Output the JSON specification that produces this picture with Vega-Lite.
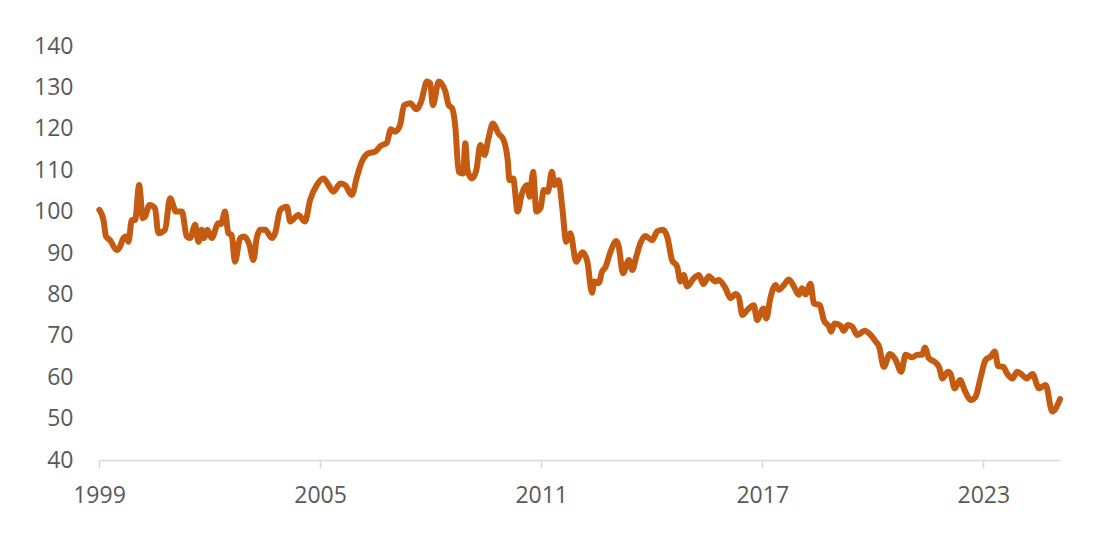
{
  "$schema": "https://vega.github.io/schema/vega-lite/v6.json",
  "width": 961,
  "height": 414,
  "autosize": {"type": "none"},
  "padding": {"left": 99, "top": 46, "right": 45, "bottom": 82},
  "background": "white",
  "config": {
    "view": {"stroke": null},
    "font": "Open Sans",
    "axis": {"grid": false, "labelFont": "Open Sans", "labelFontSize": 23, "labelColor": "#595959", "title": null}
  },
  "data": {
    "values": [
      {"t": 1999.01, "v": 100.4}, {"t": 1999.12, "v": 98}, {"t": 1999.19, "v": 94}, {"t": 1999.30, "v": 93.1},
      {"t": 1999.48, "v": 90.7}, {"t": 1999.57, "v": 91.5}, {"t": 1999.66, "v": 93.6}, {"t": 1999.73, "v": 94},
      {"t": 1999.80, "v": 92.7}, {"t": 1999.89, "v": 98}, {"t": 1999.98, "v": 98}, {"t": 2000.09, "v": 106.4},
      {"t": 2000.19, "v": 98.4}, {"t": 2000.25, "v": 98.8}, {"t": 2000.37, "v": 101.6}, {"t": 2000.52, "v": 100.8},
      {"t": 2000.61, "v": 94.8}, {"t": 2000.79, "v": 95.6}, {"t": 2000.93, "v": 103.2}, {"t": 2001.09, "v": 100},
      {"t": 2001.25, "v": 100}, {"t": 2001.38, "v": 94}, {"t": 2001.47, "v": 93.6}, {"t": 2001.61, "v": 96.8},
      {"t": 2001.70, "v": 92.7}, {"t": 2001.79, "v": 95.6}, {"t": 2001.85, "v": 93.6}, {"t": 2001.94, "v": 95.6},
      {"t": 2002.06, "v": 93.6}, {"t": 2002.24, "v": 97.2}, {"t": 2002.31, "v": 97}, {"t": 2002.42, "v": 100},
      {"t": 2002.51, "v": 94.8}, {"t": 2002.60, "v": 94.3}, {"t": 2002.69, "v": 87.9}, {"t": 2002.83, "v": 93.6},
      {"t": 2002.94, "v": 94}, {"t": 2003.08, "v": 92}, {"t": 2003.19, "v": 88.3}, {"t": 2003.28, "v": 93.6},
      {"t": 2003.37, "v": 95.6}, {"t": 2003.51, "v": 95.6}, {"t": 2003.69, "v": 93.6}, {"t": 2003.78, "v": 94.8},
      {"t": 2003.92, "v": 100.4}, {"t": 2004.10, "v": 101.2}, {"t": 2004.19, "v": 97.6}, {"t": 2004.41, "v": 99.2},
      {"t": 2004.59, "v": 97.6}, {"t": 2004.73, "v": 102.8}, {"t": 2004.91, "v": 106.4}, {"t": 2005.09, "v": 108},
      {"t": 2005.23, "v": 106.4}, {"t": 2005.36, "v": 104.8}, {"t": 2005.55, "v": 106.8}, {"t": 2005.68, "v": 106.4},
      {"t": 2005.86, "v": 104}, {"t": 2006.00, "v": 108.4}, {"t": 2006.13, "v": 112}, {"t": 2006.31, "v": 114.1},
      {"t": 2006.50, "v": 114.5}, {"t": 2006.63, "v": 115.8}, {"t": 2006.81, "v": 116.6}, {"t": 2006.92, "v": 119.9},
      {"t": 2007.04, "v": 119.3}, {"t": 2007.17, "v": 120.9}, {"t": 2007.28, "v": 125.7}, {"t": 2007.45, "v": 126.2},
      {"t": 2007.61, "v": 124.7}, {"t": 2007.74, "v": 126.5}, {"t": 2007.90, "v": 131.4}, {"t": 2007.99, "v": 131},
      {"t": 2008.06, "v": 125.7}, {"t": 2008.22, "v": 131.4}, {"t": 2008.40, "v": 129}, {"t": 2008.49, "v": 125.7},
      {"t": 2008.58, "v": 125}, {"t": 2008.67, "v": 120.5}, {"t": 2008.76, "v": 109.6}, {"t": 2008.88, "v": 109.2},
      {"t": 2008.94, "v": 116.5}, {"t": 2009.00, "v": 110}, {"t": 2009.12, "v": 108}, {"t": 2009.24, "v": 110},
      {"t": 2009.35, "v": 116.1}, {"t": 2009.46, "v": 113.7}, {"t": 2009.57, "v": 117.7}, {"t": 2009.69, "v": 121.3},
      {"t": 2009.84, "v": 118.9}, {"t": 2009.98, "v": 117.3}, {"t": 2010.09, "v": 112.5}, {"t": 2010.14, "v": 107.6},
      {"t": 2010.24, "v": 108}, {"t": 2010.36, "v": 100}, {"t": 2010.48, "v": 104.4}, {"t": 2010.62, "v": 106.4},
      {"t": 2010.69, "v": 103.6}, {"t": 2010.78, "v": 109.6}, {"t": 2010.87, "v": 100}, {"t": 2010.98, "v": 100.8},
      {"t": 2011.07, "v": 105.2}, {"t": 2011.18, "v": 104.8}, {"t": 2011.29, "v": 109.6}, {"t": 2011.36, "v": 106.4},
      {"t": 2011.47, "v": 107.6}, {"t": 2011.57, "v": 101.2}, {"t": 2011.68, "v": 92.7}, {"t": 2011.79, "v": 94.8},
      {"t": 2011.95, "v": 87.9}, {"t": 2012.12, "v": 90.2}, {"t": 2012.25, "v": 88}, {"t": 2012.38, "v": 80.4},
      {"t": 2012.44, "v": 83.1}, {"t": 2012.56, "v": 82.7}, {"t": 2012.65, "v": 85.5}, {"t": 2012.74, "v": 86.5},
      {"t": 2012.88, "v": 90.3}, {"t": 2013.04, "v": 92.9}, {"t": 2013.10, "v": 91.8}, {"t": 2013.22, "v": 85.1},
      {"t": 2013.38, "v": 88.3}, {"t": 2013.47, "v": 85.9}, {"t": 2013.58, "v": 89.1}, {"t": 2013.69, "v": 92.3},
      {"t": 2013.83, "v": 94.1}, {"t": 2014.01, "v": 93.1}, {"t": 2014.15, "v": 95.2}, {"t": 2014.31, "v": 95.6},
      {"t": 2014.43, "v": 93.6}, {"t": 2014.55, "v": 88.3}, {"t": 2014.69, "v": 86.7}, {"t": 2014.78, "v": 83.1},
      {"t": 2014.87, "v": 84.7}, {"t": 2014.96, "v": 81.9}, {"t": 2015.14, "v": 83.9}, {"t": 2015.28, "v": 84.7},
      {"t": 2015.40, "v": 82.5}, {"t": 2015.55, "v": 84.4}, {"t": 2015.73, "v": 83.1}, {"t": 2015.82, "v": 83.5},
      {"t": 2016.00, "v": 81.5}, {"t": 2016.14, "v": 79.1}, {"t": 2016.27, "v": 80.1}, {"t": 2016.36, "v": 79.4},
      {"t": 2016.46, "v": 75}, {"t": 2016.59, "v": 76.2}, {"t": 2016.77, "v": 77.4}, {"t": 2016.86, "v": 73.8},
      {"t": 2017.03, "v": 76.6}, {"t": 2017.11, "v": 74.2}, {"t": 2017.22, "v": 79.1}, {"t": 2017.36, "v": 82.3},
      {"t": 2017.45, "v": 81.1}, {"t": 2017.59, "v": 82.3}, {"t": 2017.72, "v": 83.6}, {"t": 2017.86, "v": 81.9},
      {"t": 2017.99, "v": 79.9}, {"t": 2018.08, "v": 81.5}, {"t": 2018.17, "v": 80}, {"t": 2018.31, "v": 82.6},
      {"t": 2018.40, "v": 77.8}, {"t": 2018.56, "v": 77.4}, {"t": 2018.67, "v": 73.8}, {"t": 2018.81, "v": 72.2},
      {"t": 2018.87, "v": 71}, {"t": 2018.96, "v": 73}, {"t": 2019.13, "v": 72.4}, {"t": 2019.21, "v": 71.2},
      {"t": 2019.32, "v": 72.6}, {"t": 2019.44, "v": 72.2}, {"t": 2019.58, "v": 70.2}, {"t": 2019.78, "v": 71.2},
      {"t": 2019.94, "v": 70.2}, {"t": 2020.08, "v": 68.6}, {"t": 2020.17, "v": 67.4}, {"t": 2020.30, "v": 62.5},
      {"t": 2020.46, "v": 65.6}, {"t": 2020.62, "v": 64.2}, {"t": 2020.77, "v": 61.3}, {"t": 2020.89, "v": 65.4},
      {"t": 2021.07, "v": 64.8}, {"t": 2021.21, "v": 65.4}, {"t": 2021.34, "v": 65.4}, {"t": 2021.41, "v": 67.2},
      {"t": 2021.52, "v": 64.6}, {"t": 2021.68, "v": 63.7}, {"t": 2021.80, "v": 62.4}, {"t": 2021.89, "v": 59.7},
      {"t": 2022.04, "v": 61.3}, {"t": 2022.11, "v": 60.8}, {"t": 2022.22, "v": 57.3}, {"t": 2022.37, "v": 59.3},
      {"t": 2022.49, "v": 56.9}, {"t": 2022.66, "v": 54.5}, {"t": 2022.79, "v": 55.3}, {"t": 2022.93, "v": 60.1},
      {"t": 2023.06, "v": 64.2}, {"t": 2023.20, "v": 65}, {"t": 2023.31, "v": 66.2}, {"t": 2023.40, "v": 62.7},
      {"t": 2023.54, "v": 62.5}, {"t": 2023.65, "v": 60.8}, {"t": 2023.79, "v": 59.7}, {"t": 2023.92, "v": 61.3},
      {"t": 2024.06, "v": 60.5}, {"t": 2024.18, "v": 59.7}, {"t": 2024.33, "v": 60.8}, {"t": 2024.51, "v": 57.3},
      {"t": 2024.69, "v": 58.1}, {"t": 2024.87, "v": 51.7}, {"t": 2025.08, "v": 54.7}
    ]
  },
  "mark": {"type": "line", "color": "#C55A11", "strokeWidth": 6, "strokeCap": "round", "strokeJoin": "round", "interpolate": "monotone"},
  "encoding": {
    "x": {
      "field": "t",
      "type": "quantitative",
      "scale": {"domain": [1999, 2025.08], "nice": false, "zero": false},
      "axis": {
        "values": [1999, 2005, 2011, 2017, 2023],
        "format": "d",
        "domainColor": "#d9d9d9",
        "domainWidth": 1.5,
        "tickColor": "#d9d9d9",
        "tickWidth": 1.5,
        "tickSize": 8,
        "labelPadding": 16,
        "labelFlush": false
      }
    },
    "y": {
      "field": "v",
      "type": "quantitative",
      "scale": {"domain": [40, 140], "nice": false, "zero": false},
      "axis": {
        "values": [40, 50, 60, 70, 80, 90, 100, 110, 120, 130, 140],
        "domain": false,
        "ticks": false,
        "tickSize": 0,
        "labelPadding": 26
      }
    }
  }
}
